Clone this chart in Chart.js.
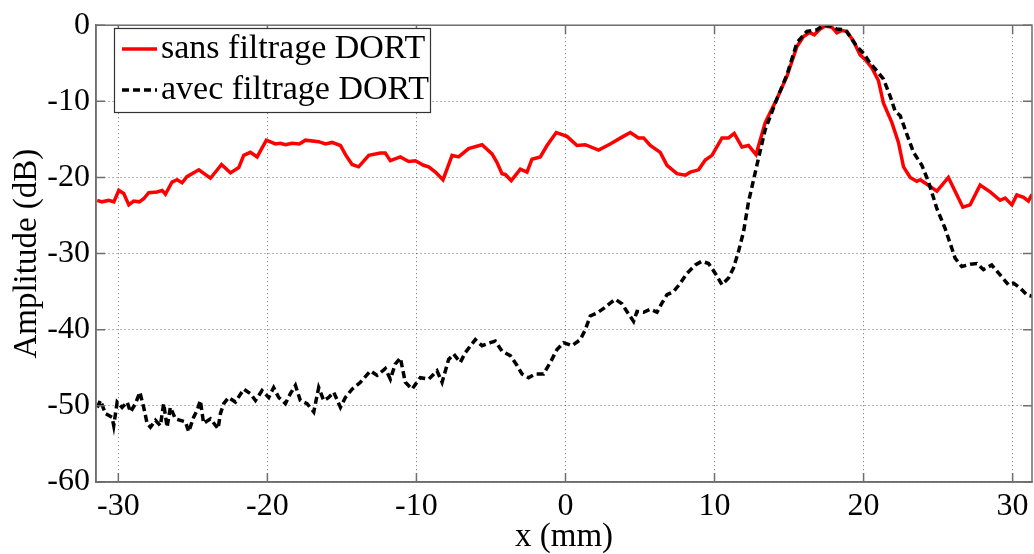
<!DOCTYPE html>
<html>
<head>
<meta charset="utf-8">
<script src="https://cdn.jsdelivr.net/npm/chart.js@4/dist/chart.umd.min.js"></script>
<style>
  html, body { margin: 0; padding: 0; background: #fff; }
  #wrap { width: 1034px; height: 554px; }
</style>
</head>
<body>
<div id="wrap"><canvas id="chart" width="1034" height="554"></canvas></div>
<script>
// sans filtrage DORT (red, solid)
const sansX = [-31.42,-31.1,-30.64,-30.3,-29.97,-29.64,-29.3,-28.97,-28.6,-28.3,-27.96,-27.4,-27.06,-26.84,-26.4,-26.06,-25.72,-25.4,-24.6,-23.82,-23.08,-22.48,-21.92,-21.59,-21.14,-20.69,-20.07,-19.46,-19.13,-18.79,-18.34,-17.85,-17.45,-16.56,-16.1,-15.66,-15.1,-14.76,-14.32,-13.88,-13.2,-12.42,-12.09,-11.75,-11.08,-10.52,-10.07,-9.52,-9.18,-8.73,-8.22,-7.95,-7.61,-7.17,-6.5,-5.6,-4.93,-4.6,-4.26,-4.04,-3.64,-3.03,-2.58,-2.25,-1.69,-1.24,-0.62,0.1,0.77,1.33,2.22,3.0,3.79,4.35,4.9,5.24,5.69,6.36,6.81,7.48,8.04,8.37,8.93,9.38,9.83,10.5,10.94,11.32,11.84,12.28,12.78,13.4,14.18,14.86,15.53,15.97,16.37,16.69,17.09,17.42,17.87,18.21,18.54,18.88,19.32,19.77,20.1,20.56,21.0,21.33,21.9,22.34,22.68,23.13,23.57,23.8,24.25,24.92,25.69,26.14,26.66,27.15,27.82,28.49,29.16,29.5,29.95,30.28,30.73,31.06,31.3];
const sansY = [-23.0,-23.2,-23.0,-23.2,-21.7,-22.1,-23.6,-23.1,-23.2,-22.8,-22.0,-21.9,-21.7,-22.2,-20.6,-20.3,-20.7,-19.9,-19.0,-20.1,-18.3,-19.4,-18.7,-17.1,-16.7,-17.3,-15.1,-15.6,-15.5,-15.7,-15.5,-15.6,-15.1,-15.3,-15.6,-15.4,-15.8,-17.0,-18.3,-18.6,-17.1,-16.8,-16.8,-17.8,-17.3,-17.9,-17.8,-18.4,-18.6,-19.3,-20.3,-18.9,-17.1,-17.3,-16.2,-15.7,-16.9,-18.0,-19.5,-19.6,-20.4,-18.9,-19.3,-17.6,-17.3,-15.8,-14.1,-14.6,-15.8,-15.7,-16.4,-15.6,-14.7,-14.1,-14.8,-14.8,-15.8,-16.7,-18.4,-19.5,-19.7,-19.3,-19.0,-17.7,-17.1,-14.8,-14.8,-14.2,-16.0,-15.8,-17.0,-12.8,-9.7,-6.7,-2.8,-1.5,-0.96,-1.26,-0.5,-0.1,-0.26,-1.0,-0.7,-0.8,-2.1,-3.9,-4.5,-5.6,-7.3,-10.2,-12.8,-15.4,-18.6,-20.0,-20.5,-20.3,-20.9,-21.8,-20.0,-21.8,-23.9,-23.6,-21.0,-21.9,-23.0,-22.7,-23.6,-22.3,-22.6,-23.1,-22.2];

// avec filtrage DORT (black, dashed)
const avecX = [-31.42,-31.2,-30.87,-30.42,-30.31,-30.08,-29.75,-29.41,-29.19,-28.85,-28.56,-28.3,-28.07,-27.85,-27.51,-27.18,-26.96,-26.73,-26.51,-26.17,-25.84,-25.5,-25.28,-24.95,-24.72,-24.5,-24.28,-23.82,-23.31,-23.15,-22.93,-22.6,-22.15,-21.59,-21.14,-20.8,-20.36,-19.91,-19.58,-19.24,-18.79,-18.46,-18.12,-17.79,-17.34,-16.89,-16.56,-16.22,-15.89,-15.55,-15.1,-14.77,-14.32,-13.76,-13.09,-12.64,-12.09,-11.75,-11.42,-11.08,-10.75,-10.3,-9.74,-9.18,-8.62,-8.28,-7.84,-7.5,-7.06,-6.72,-6.05,-5.6,-5.04,-4.71,-4.26,-3.7,-3.25,-2.92,-2.47,-2.03,-1.47,-1.02,-0.57,-0.13,0.44,0.99,1.33,1.66,2.11,2.56,3.0,3.34,3.79,4.12,4.57,4.8,5.24,5.69,6.14,6.47,6.81,7.25,7.7,8.15,8.71,9.15,9.6,10.05,10.5,10.94,11.27,11.61,11.95,12.28,12.84,13.4,14.18,14.86,15.53,16.2,16.87,17.31,17.76,18.21,18.77,19.1,19.55,20.0,20.44,20.89,21.34,21.78,22.12,22.46,22.9,23.35,23.91,24.36,24.92,25.47,25.92,26.14,26.59,27.15,27.6,28.04,28.6,29.16,29.72,30.06,30.5,30.95,31.3];
const avecY = [-50.2,-49.3,-51.0,-51.5,-52.6,-49.5,-50.2,-49.5,-50.8,-49.7,-48.2,-50.2,-52.3,-52.8,-51.9,-52.6,-49.7,-52.8,-50.2,-51.7,-51.9,-52.1,-53.4,-51.5,-50.6,-49.3,-52.3,-51.7,-53.0,-51.0,-49.7,-48.9,-49.5,-47.8,-48.4,-49.3,-48.0,-48.9,-47.6,-48.9,-49.7,-48.4,-47.3,-49.3,-49.7,-50.8,-47.6,-49.3,-48.9,-48.2,-50.2,-48.9,-47.8,-46.9,-45.4,-46.0,-45.1,-46.5,-44.5,-43.7,-46.9,-47.8,-46.3,-46.5,-45.4,-46.9,-43.9,-43.2,-44.3,-43.0,-41.3,-42.1,-41.7,-41.5,-42.8,-43.4,-44.7,-45.8,-46.3,-45.8,-45.8,-44.3,-42.6,-41.7,-42.1,-41.3,-40.0,-38.2,-37.8,-37.2,-36.5,-36.0,-36.6,-37.6,-38.9,-37.6,-37.7,-37.3,-37.7,-36.5,-35.4,-35.0,-33.9,-32.6,-31.5,-31.0,-31.3,-32.6,-34.1,-33.2,-31.9,-29.7,-27.1,-23.2,-18.4,-13.7,-9.7,-6.5,-2.3,-0.8,-0.6,0,-0.1,-0.5,-0.6,-1.5,-2.8,-3.7,-5.0,-6.0,-7.1,-9.3,-11.3,-11.9,-14.3,-16.7,-18.4,-20.6,-24.1,-26.7,-29.3,-30.6,-31.7,-31.4,-31.3,-32.1,-31.5,-32.8,-34.1,-33.9,-34.5,-35.4,-35.6];

const xMin = -31.5, xMax = 31.3;
const yMin = -60, yMax = 0;
const tickStep = 10;

const FONT = "'Liberation Serif', 'Times New Roman', serif";

function toPoints(xs, ys) {
  return xs.map((x, i) => ({ x: x, y: ys[i] }));
}

// MATLAB-like box: top/right border, inward tick marks, and the legend
const boxPlugin = {
  id: 'boxPlugin',
  afterDraw(chart) {
    const ctx = chart.ctx;
    const a = chart.chartArea;
    const xs = chart.scales.x, ys = chart.scales.y;
    ctx.save();
    ctx.strokeStyle = '#6e6e6e';
    ctx.lineWidth = 1.5;
    ctx.strokeRect(a.left, a.top, a.right - a.left, a.bottom - a.top);
    ctx.beginPath();
    xs.ticks.forEach(t => {
      const px = xs.getPixelForValue(t.value);
      ctx.moveTo(px, a.bottom); ctx.lineTo(px, a.bottom - 9);
      ctx.moveTo(px, a.top); ctx.lineTo(px, a.top + 9);
    });
    ys.ticks.forEach(t => {
      const py = ys.getPixelForValue(t.value);
      ctx.moveTo(a.left, py); ctx.lineTo(a.left + 9, py);
      ctx.moveTo(a.right, py); ctx.lineTo(a.right - 9, py);
    });
    ctx.stroke();

    // legend
    const lx = 114.5, ly = 28.5, lw = 316, lh = 84;
    ctx.fillStyle = '#fff';
    ctx.fillRect(lx, ly, lw, lh);
    ctx.strokeStyle = '#333';
    ctx.lineWidth = 1.2;
    ctx.strokeRect(lx, ly, lw, lh);
    ctx.font = '34px ' + FONT;
    ctx.textBaseline = 'middle';
    ctx.textAlign = 'left';
    chart.data.datasets.forEach((ds, i) => {
      const yy = 49 + i * 41;
      ctx.strokeStyle = ds.borderColor;
      ctx.lineWidth = ds.borderWidth;
      ctx.setLineDash(ds.borderDash || []);
      ctx.beginPath();
      ctx.moveTo(122, yy); ctx.lineTo(157, yy);
      ctx.stroke();
      ctx.setLineDash([]);
      ctx.fillStyle = '#000';
      ctx.fillText(ds.label, 161, yy);
    });
    ctx.restore();
  }
};

new Chart(document.getElementById('chart'), {
  type: 'line',
  data: {
    datasets: [
      {
        label: 'sans filtrage DORT',
        data: toPoints(sansX, sansY),
        borderColor: '#ff0000',
        borderWidth: 3.5,
        pointRadius: 0,
        tension: 0,
        fill: false,
        order: 2
      },
      {
        label: 'avec filtrage DORT',
        data: toPoints(avecX, avecY),
        borderColor: '#000000',
        borderWidth: 3.5,
        borderDash: [7, 4],
        pointRadius: 0,
        tension: 0,
        fill: false,
        order: 1
      }
    ]
  },
  options: {
    responsive: false,
    animation: false,
    devicePixelRatio: 1,
    layout: { padding: { top: 22, right: 2, left: 0, bottom: 0 } },
    plugins: {
      legend: { display: false },
      tooltip: { enabled: false }
    },
    scales: {
      x: {
        type: 'linear',
        min: xMin,
        max: xMax,
        afterFit(scale) { scale.height = 72; },
        ticks: {
          stepSize: tickStep,
          includeBounds: false,
          padding: 5,
          color: '#000',
          font: { family: FONT, size: 32 },
          maxRotation: 0
        },
        grid: { color: 'rgba(0,0,0,0.55)', lineWidth: 1, drawTicks: false },
        border: { display: true, color: '#6e6e6e', width: 1.5, dash: [1, 3] },
        title: {
          display: true,
          text: 'x (mm)',
          color: '#000',
          font: { family: FONT, size: 33, lineHeight: 1 },
          padding: { top: 0, bottom: 0 }
        }
      },
      y: {
        type: 'linear',
        min: yMin,
        max: yMax,
        afterFit(scale) { scale.width = 96; },
        ticks: {
          stepSize: tickStep,
          padding: 6,
          color: '#000',
          font: { family: FONT, size: 32 }
        },
        grid: { color: 'rgba(0,0,0,0.55)', lineWidth: 1, drawTicks: false },
        border: { display: true, color: '#6e6e6e', width: 1.5, dash: [1, 3] },
        title: {
          display: true,
          text: 'Amplitude (dB)',
          color: '#000',
          font: { family: FONT, size: 33, lineHeight: 1 },
          padding: { top: 11, bottom: 0 }
        }
      }
    }
  },
  plugins: [boxPlugin]
});
</script>
</body>
</html>
